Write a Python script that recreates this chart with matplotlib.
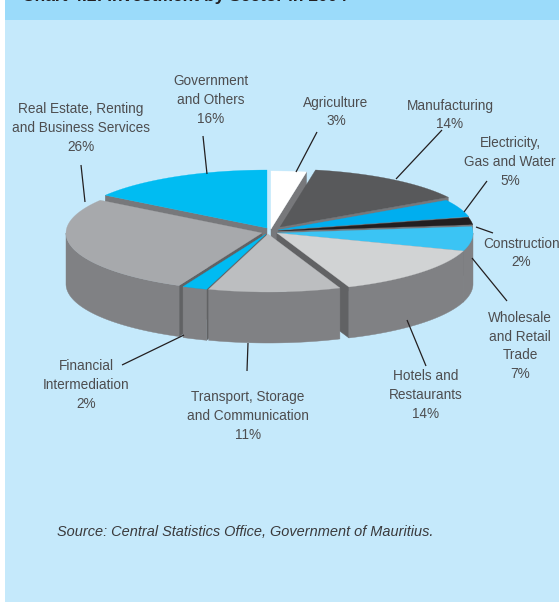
import numpy as np
import matplotlib
matplotlib.use("Agg")
import matplotlib.pyplot as plt
from matplotlib.patches import Polygon, Rectangle

# Investment shares, clockwise from twelve o'clock
sectors = ["Agriculture", "Manufacturing", "Electricity", "Construction", "Wholesale",
           "Hotels", "Transport", "Financial", "Real Estate", "Government"]
shares = [3, 14, 5, 2, 7, 14, 11, 2, 26, 16]
top_colors = ["#ffffff", "#58595b", "#00aeef", "#231f20", "#3bc4f4",
              "#d1d3d4", "#bcbec0", "#00bbf2", "#a7a9ac", "#00bcf2"]

# How far each slice is pulled out of the pie, in pixels
pull_x = [1, 10, 8, 8, 7, 7, -2, -4, -8, -3]
pull_y = [-2, -4, -1, 0, 2, 2, 3, 3, 2, -3]

labels = [
    ("Agriculture\n3%", 336, 112),
    ("Manufacturing\n14%", 450, 115),
    ("Electricity,\nGas and Water\n5%", 510, 162),
    ("Construction\n2%", 521.5, 253),
    ("Wholesale\nand Retail\nTrade\n7%", 520, 346),
    ("Hotels and\nRestaurants\n14%", 426, 395),
    ("Transport, Storage\nand Communication\n11%", 248, 416),
    ("Financial\nIntermediation\n2%", 86, 385),
    ("Real Estate, Renting\nand Business Services\n26%", 81, 128),
    ("Government\nand Others\n16%", 211, 100),
]
leaders = [
    ((296, 172), (317, 132)),
    ((396, 179), (442, 130)),
    ((464, 212), (487, 181)),
    ((476, 227), (493, 233)),
    ((472, 258), (507, 301)),
    ((407, 320), (426, 366)),
    ((248, 343), (247, 371)),
    ((184, 335), (122, 365)),
    ((85, 202), (81, 165)),
    ((207, 174), (203, 136)),
]

CX, CY = 270, 231
RX, RY = 196, 58
DEPTH = 51
WALL = "#808184"
FACE = "#616264"
FACE_LIGHT = "#77787b"

# Perspective of the tilted pie: how many degrees a rim angle is displaced on screen
view_angle = [0, 60, 110, 160, 205, 302, 360]
view_shift = [0, 2, 3.5, 3.5, 4, -2, 0]

fig = plt.figure(figsize=(5.59, 6.02), dpi=100, facecolor="white")
ax = fig.add_axes([0, 0, 1, 1])
ax.set_xlim(0, 559)
ax.set_ylim(602, 0)
ax.axis("off")

ax.add_patch(Rectangle((5, 20), 554, 582, color="#c5e9fb", lw=0, zorder=0))
ax.add_patch(Rectangle((5, 0), 554, 20, color="#9bdbfa", lw=0, zorder=0))
ax.text(22, 1.5, "Chart 4.2: Investment by Sector in 2004", fontsize=12.5, fontweight="bold",
        family="Liberation Sans", color="#231f20", va="baseline", ha="left")


def rim(theta, ox, oy):
    return np.column_stack([ox + RX * np.sin(theta), oy - RY * np.cos(theta)])


cumulative = np.cumsum([0] + shares) * 3.6
edges = np.radians(cumulative - np.interp(cumulative, view_angle, view_shift))
slices = []
for i in range(len(shares)):
    t0, t1 = edges[i], edges[i + 1]
    mid = (t0 + t1) / 2
    slices.append((i, t0, t1, mid, CX + pull_x[i], CY + pull_y[i]))

# Paint from the back of the pie to the front
for i, t0, t1, mid, ox, oy in sorted(slices, key=lambda s: -np.cos(s[3])):
    z = 3 + 0.01 * (-np.cos(mid))
    apex = np.array([ox, oy])
    down = np.array([0, DEPTH])
    for t, visible in ((t0, np.sin(t0) < 0), (t1, np.sin(t1) > 0)):
        if visible:
            p = rim(np.array([t]), ox, oy)[0]
            color = FACE if 0.55 * np.pi < t < 1.3 * np.pi else FACE_LIGHT
            ax.add_patch(Polygon([apex, p, p + down, apex + down], closed=True,
                                 fc=color, ec=color, lw=0.3, zorder=z))
    lo, hi = max(t0, np.pi / 2), min(t1, 1.5 * np.pi)
    if hi > lo:
        arc = rim(np.linspace(lo, hi, 80), ox, oy)
        ax.add_patch(Polygon(np.vstack([arc, arc[::-1] + down]), closed=True,
                             fc=WALL, ec=WALL, lw=0.3, zorder=z))
    arc = rim(np.linspace(t0, t1, 120), ox, oy)
    ax.add_patch(Polygon(np.vstack([apex, arc]), closed=True,
                         fc=top_colors[i], ec=top_colors[i], lw=0.2, zorder=z))

for a, b in leaders:
    ax.plot([a[0], b[0]], [a[1], b[1]], color="#231f20", lw=0.9, zorder=5,
            solid_capstyle="butt")

for text, x, y in labels:
    ax.text(x, y, text, ha="center", va="center", fontsize=9.85, linespacing=1.43,
            family="Liberation Sans", color="#4d4d4f", zorder=6)

ax.text(57, 532, "Source: Central Statistics Office, Government of Mauritius.",
        fontsize=10.45, style="italic", family="Liberation Sans",
        color="#3a3a3c", va="center", ha="left", zorder=6)

fig.savefig("out.png", dpi=100, facecolor="white")
